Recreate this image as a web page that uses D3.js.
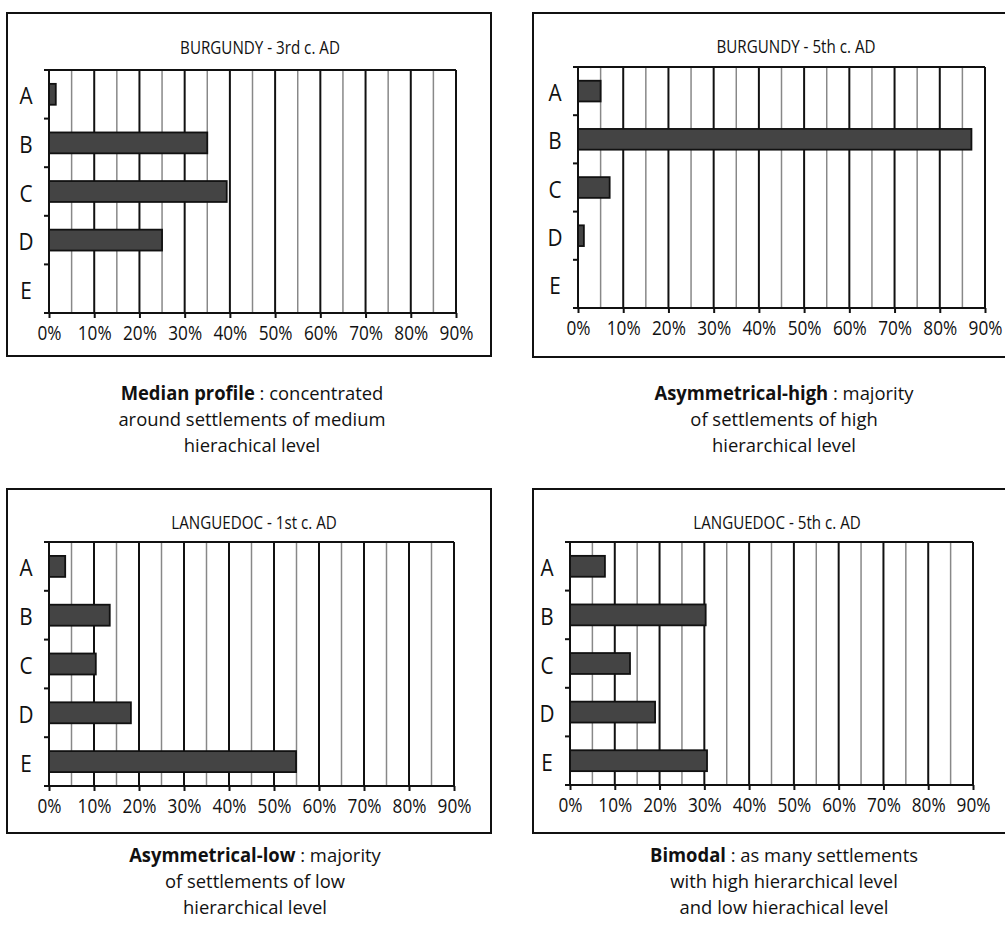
<!DOCTYPE html>
<html>
<head>
<meta charset="utf-8">
<script src="https://cdn.jsdelivr.net/npm/d3@7"></script>
<style>
  body { margin: 0; background: #fff; overflow: hidden; }
  svg { display: block; }
  text { font-family: "Open Sans", "Noto Sans", sans-serif; fill: #111; }
</style>
</head>
<body>
<div id="chart"></div>
<script>
// data (percent of settlements per hierarchical level)
var categories = ["A", "B", "C", "D", "E"];
var burgundy3rd = [1.5, 35, 39.3, 25, 0];
var burgundy5th = [5, 87, 7, 1.3, 0];
var languedoc1st = [3.6, 13.5, 10.4, 18.2, 54.9];
var languedoc5th = [7.8, 30.3, 13.4, 19, 30.6];
var xTicks = [0, 10, 20, 30, 40, 50, 60, 70, 80, 90];
var gridSteps = [5, 10, 15, 20, 25, 30, 35, 40, 45, 50, 55, 60, 65, 70, 75, 80, 85, 90];
var titles = ["BURGUNDY - 3rd c. AD", "BURGUNDY - 5th c. AD", "LANGUEDOC - 1st c. AD", "LANGUEDOC - 5th c. AD"];
var captionBold = ["Median profile", "Asymmetrical-high", "Asymmetrical-low", "Bimodal"];
var captionRest = [
    [" : concentrated", "around settlements of medium", "hierachical level"],
    [" : majority", "of settlements of high", "hierarchical level"],
    [" : majority", "of settlements of low", "hierarchical level"],
    [" : as many settlements", "with high hierarchical level", "and low hierachical level"]
];

var svgWidth = 1005;
var svgHeight = 936;

var svg = d3.select("#chart")
    .append("svg")
    .attr("width", svgWidth)
    .attr("height", svgHeight);

// layout of the four panels
var panels = [
    { values: burgundy3rd, box: [7, 13, 484, 343], plot: [49, 456, 70, 313], titleX: 260, titleY: 54, cx: 252, capY: 400 },
    { values: burgundy5th, box: [533, 13, 540, 344], plot: [578, 985, 67, 308], titleX: 796, titleY: 53, cx: 784, capY: 400 },
    { values: languedoc1st, box: [7, 489, 484, 344], plot: [49, 454, 542, 786], titleX: 254, titleY: 529, cx: 255, capY: 862 },
    { values: languedoc5th, box: [533, 489, 540, 344], plot: [570, 973, 542, 785], titleX: 777, titleY: 529, cx: 784, capY: 862 }
];

// narrow text: the original uses a condensed face
function narrowText(parent, x, y, size, sx) {
    return parent.append("text")
        .attr("transform", `translate(${x},${y}) scale(${sx},1)`)
        .attr("text-anchor", "middle")
        .style("font-size", size + "px");
}

panels.forEach(function (p, i) {
    var g = svg.append("g");

    // outer frame
    g.append("rect")
        .attr("x", p.box[0])
        .attr("y", p.box[1])
        .attr("width", p.box[2])
        .attr("height", p.box[3])
        .attr("fill", "none")
        .attr("stroke", "#111")
        .attr("stroke-width", 2);

    var x = d3.scaleLinear().domain([0, 90]).range([p.plot[0], p.plot[1]]);
    var y = d3.scaleBand().domain(categories).range([p.plot[2], p.plot[3]]);

    // title
    narrowText(g, p.titleX, p.titleY, 18.5, 0.82).text(titles[i]);

    // vertical grid lines
    g.selectAll(".grid")
        .data(gridSteps)
        .enter()
        .append("line")
        .attr("x1", d => x(d))
        .attr("x2", d => x(d))
        .attr("y1", p.plot[2])
        .attr("y2", p.plot[3])
        .attr("stroke", d => d % 10 === 0 ? "#111" : "#888")
        .attr("stroke-width", d => d % 10 === 0 ? 2 : 1.5);

    // top border
    g.append("line")
        .attr("x1", p.plot[0])
        .attr("x2", p.plot[1])
        .attr("y1", p.plot[2])
        .attr("y2", p.plot[2])
        .attr("stroke", "#111")
        .attr("stroke-width", 2);

    // bars
    var barH = y.bandwidth() * 0.43;
    g.selectAll(".bar")
        .data(p.values.map((v, k) => ({ cat: categories[k], v: v })).filter(d => d.v > 0))
        .enter()
        .append("rect")
        .attr("x", x(0))
        .attr("y", d => y(d.cat) + y.bandwidth() / 2 - barH / 2)
        .attr("width", d => x(d.v) - x(0))
        .attr("height", barH)
        .attr("fill", "#444")
        .attr("stroke", "#111")
        .attr("stroke-width", 1.8);

    // bottom axis
    var bottomAxis = d3.axisBottom(x)
        .tickValues(xTicks)
        .tickFormat(d => d + "%")
        .tickSizeOuter(0)
        .tickSize(5)
        .tickPadding(8);

    var xa = g.append("g")
        .attr("transform", `translate(0, ${p.plot[3]})`)
        .call(bottomAxis);
    xa.select(".domain").attr("stroke", "#111").attr("stroke-width", 2)
        .attr("d", `M${p.plot[0] - 5},0H${p.plot[1]}`);
    xa.selectAll(".tick line").attr("stroke", "#111").attr("stroke-width", 2);
    xa.selectAll(".tick text")
        .style("font-size", "20px")
        .style("font-family", "'Open Sans', sans-serif")
        .attr("fill", "#222")
        .attr("transform", "scale(0.86,1)");

    // left axis: ticks between categories
    g.append("line")
        .attr("x1", p.plot[0])
        .attr("x2", p.plot[0])
        .attr("y1", p.plot[2])
        .attr("y2", p.plot[3])
        .attr("stroke", "#111")
        .attr("stroke-width", 2);

    g.selectAll(".ytick")
        .data(categories)
        .enter()
        .append("line")
        .attr("x1", p.plot[0] - 5)
        .attr("x2", p.plot[0])
        .attr("y1", d => y(d))
        .attr("y2", d => y(d))
        .attr("stroke", "#111")
        .attr("stroke-width", 2);

    categories.forEach(function (c) {
        narrowText(g, p.plot[0] - 23, y(c) + y.bandwidth() / 2 + 10, 23, 0.9).text(c);
    });

    // caption below the panel
    var first = narrowText(g, p.cx, p.capY, 19, 0.97);
    first.append("tspan").style("font-weight", "bold").text(captionBold[i]);
    first.append("tspan").text(captionRest[i][0]);

    captionRest[i].slice(1).forEach(function (line, k) {
        narrowText(g, p.cx, p.capY + 26 * (k + 1), 19, 0.97).text(line);
    });
});
</script>
</body>
</html>
